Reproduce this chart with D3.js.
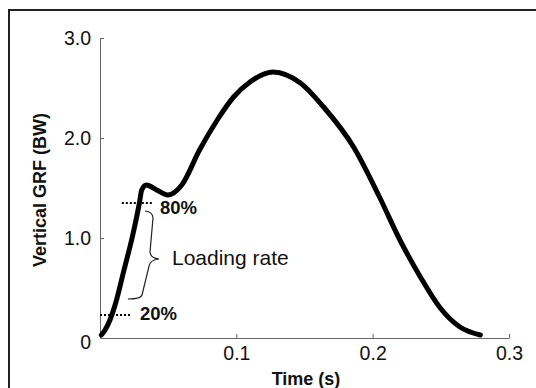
<!DOCTYPE html>
<html><head><meta charset="utf-8">
<script src="https://cdn.jsdelivr.net/npm/d3@7"></script>
<style>body{margin:0;background:#fff}svg{display:block}text{font-family:Arial,"Liberation Sans",sans-serif}</style>
</head><body>
<svg id="c" width="536" height="388"></svg>
<script>
const timeS = [0.001,0.0037,0.0073,0.0115,0.0176,0.0237,0.0289,0.0306,0.034,0.0416,0.0497,0.060,0.073,0.086,0.098,0.110,0.127,0.147,0.164,0.186,0.205,0.220,0.235,0.249,0.264,0.279];
const grfBW = [0.03,0.08,0.18,0.35,0.68,1.01,1.35,1.48,1.53,1.48,1.43,1.53,1.88,2.18,2.41,2.56,2.66,2.55,2.31,1.91,1.41,0.98,0.61,0.31,0.11,0.03];
const yTicks = [0,1,2,3];
const yTickLabels = ["0","1.0","2.0","3.0"];
const xTicks = [0.1,0.2,0.3];
const xTickLabels = ["0.1","0.2","0.3"];
const level80 = 1.35, level20 = 0.23;
const dot80 = [0.016,0.038], dot20 = [0,0.023];

const svg = d3.select("#c");
const x = d3.scaleLinear().domain([0,0.3]).range([100,509]);
const y = d3.scaleLinear().domain([0,3]).range([338,38]);

svg.append("rect").attr("x",9).attr("y",10).attr("width",560).attr("height",420)
  .attr("fill","none").attr("stroke","#222").attr("stroke-width",2);

const ya = svg.append("g").attr("transform","translate(100,0)")
  .call(d3.axisLeft(y).tickValues(yTicks).tickFormat((d,i)=>yTickLabels[i]).tickSizeInner(-4).tickSizeOuter(0).tickPadding(9));
const xa = svg.append("g").attr("transform","translate(0,338)")
  .call(d3.axisBottom(x).tickValues(xTicks).tickFormat((d,i)=>xTickLabels[i]).tickSizeInner(-4).tickSizeOuter(0).tickPadding(8));
[ya,xa].forEach(a=>{
  a.selectAll("path,line").attr("stroke","#666");
  a.selectAll("text").attr("font-size",19.5).attr("fill","#111").attr("font-family","Arial, 'Liberation Sans', sans-serif");
});
ya.selectAll(".tick").filter(d=>d===0).select("line").remove();
ya.selectAll(".tick").filter(d=>d===0).select("text").attr("dy","0.55em");

svg.append("text").attr("transform","translate(46,190) rotate(-90)").attr("text-anchor","middle")
  .attr("font-size",18).attr("font-weight","bold").attr("fill","#111").text("Vertical GRF (BW)");
svg.append("text").attr("x",306).attr("y",385).attr("text-anchor","middle")
  .attr("font-size",18).attr("font-weight","bold").attr("fill","#111").text("Time (s)");

// dotted level lines
[[dot80,level80],[dot20,level20]].forEach(([r,v])=>{
  svg.append("line").attr("x1",x(r[0])).attr("x2",x(r[1])).attr("y1",y(v)).attr("y2",y(v))
    .attr("stroke","#000").attr("stroke-width",2).attr("stroke-dasharray","2,2");
});

// curve
const line = d3.line().x((d,i)=>x(timeS[i])).y(d=>y(d)).curve(d3.curveMonotoneX);
svg.append("path").attr("d",line(grfBW)).attr("fill","none").attr("stroke","#000")
  .attr("stroke-width",5).attr("stroke-linecap","round").attr("stroke-linejoin","round");

// brace
const P=(t,v)=>x(t).toFixed(1)+","+y(v).toFixed(1);
const brace = "M"+P(0.0330,1.27)+" Q"+P(0.0389,1.26)+" "+P(0.0389,1.20)+
  " L"+P(0.0367,0.86)+" Q"+P(0.0370,0.80)+" "+P(0.0433,0.79)+
  " Q"+P(0.0367,0.78)+" "+P(0.0360,0.72)+" L"+P(0.0308,0.43)+
  " Q"+P(0.0301,0.39)+" "+P(0.0205,0.39);
svg.append("path").attr("d",brace).attr("fill","none").attr("stroke","#222").attr("stroke-width",1.2);

svg.append("text").attr("x",x(0.044)).attr("y",y(1.24)).attr("font-size",18.5).attr("font-weight","bold").attr("fill","#111").text("80%");
svg.append("text").attr("x",x(0.0293)).attr("y",y(0.18)).attr("font-size",18.5).attr("font-weight","bold").attr("fill","#111").text("20%");
svg.append("text").attr("x",x(0.0528)).attr("y",y(0.73)).attr("font-size",21).attr("fill","#111").text("Loading rate");
</script>
</body></html>
